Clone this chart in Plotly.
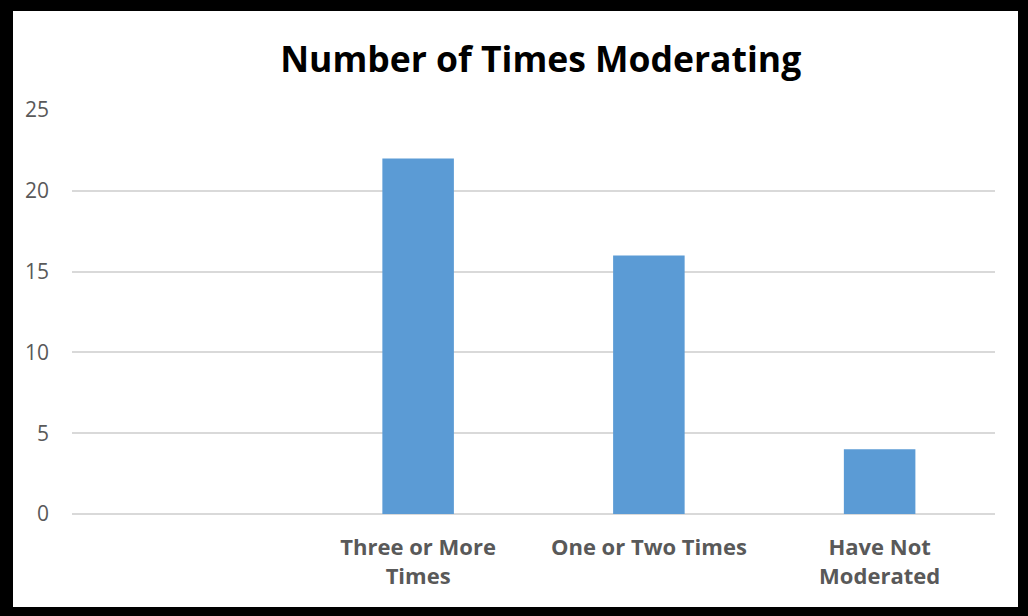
import plotly.graph_objects as go

categories = [" ", "Three or More<br>Times", "One or Two Times", "Have Not<br>Moderated"]
values = [None, 22, 16, 4]
y_ticks = [0, 5, 10, 15, 20, 25]

fig = go.Figure()
fig.add_trace(go.Bar(x=categories, y=values, marker=dict(color="#5B9BD5", line=dict(width=0)),
                     hoverinfo="x+y"))

L, R, T, B = 72, 33, 110, 102
W, H = 1028, 616
pw, ph = W - L - R, H - T - B

def px_x(x):
    return (x - L) / pw

def px_y(y):
    return (H - B - y) / ph

fig.add_shape(type="rect", xref="paper", yref="paper",
              x0=px_x(13), x1=px_x(1018), y0=px_y(607), y1=px_y(11),
              fillcolor="white", line=dict(width=0), layer="below")

fig.update_layout(
    width=W, height=H,
    margin=dict(l=L, r=R, t=T, b=B),
    paper_bgcolor="black",
    plot_bgcolor="rgba(0,0,0,0)",
    bargap=0.69,
    showlegend=False,
    title=dict(text="<b>Number of Times Moderating</b>", x=0.526, xanchor="center",
               y=1 - 60 / H, yanchor="middle",
               font=dict(family="Open Sans", size=35.5, color="#000000")),
    font=dict(family="Open Sans", color="#595959"),
)
fig.update_xaxes(type="category", categoryorder="array", categoryarray=categories,
                 showgrid=False, showline=False, zeroline=False,
                 ticks="", ticklabelstandoff=18,
                 tickfont=dict(size=22, color="#595959", family="Open Sans"),
                 tickprefix="<b>", ticksuffix="</b>")
fig.update_yaxes(range=[0, 25], tickvals=y_ticks, showgrid=True, gridcolor="#d9d9d9", gridwidth=1.5,
                 zeroline=True, zerolinecolor="#d9d9d9", zerolinewidth=1.5,
                 showline=False, ticks="", ticklabelstandoff=22,
                 tickfont=dict(size=21, color="#595959", family="Open Sans"))

fig.write_html("out.html")
